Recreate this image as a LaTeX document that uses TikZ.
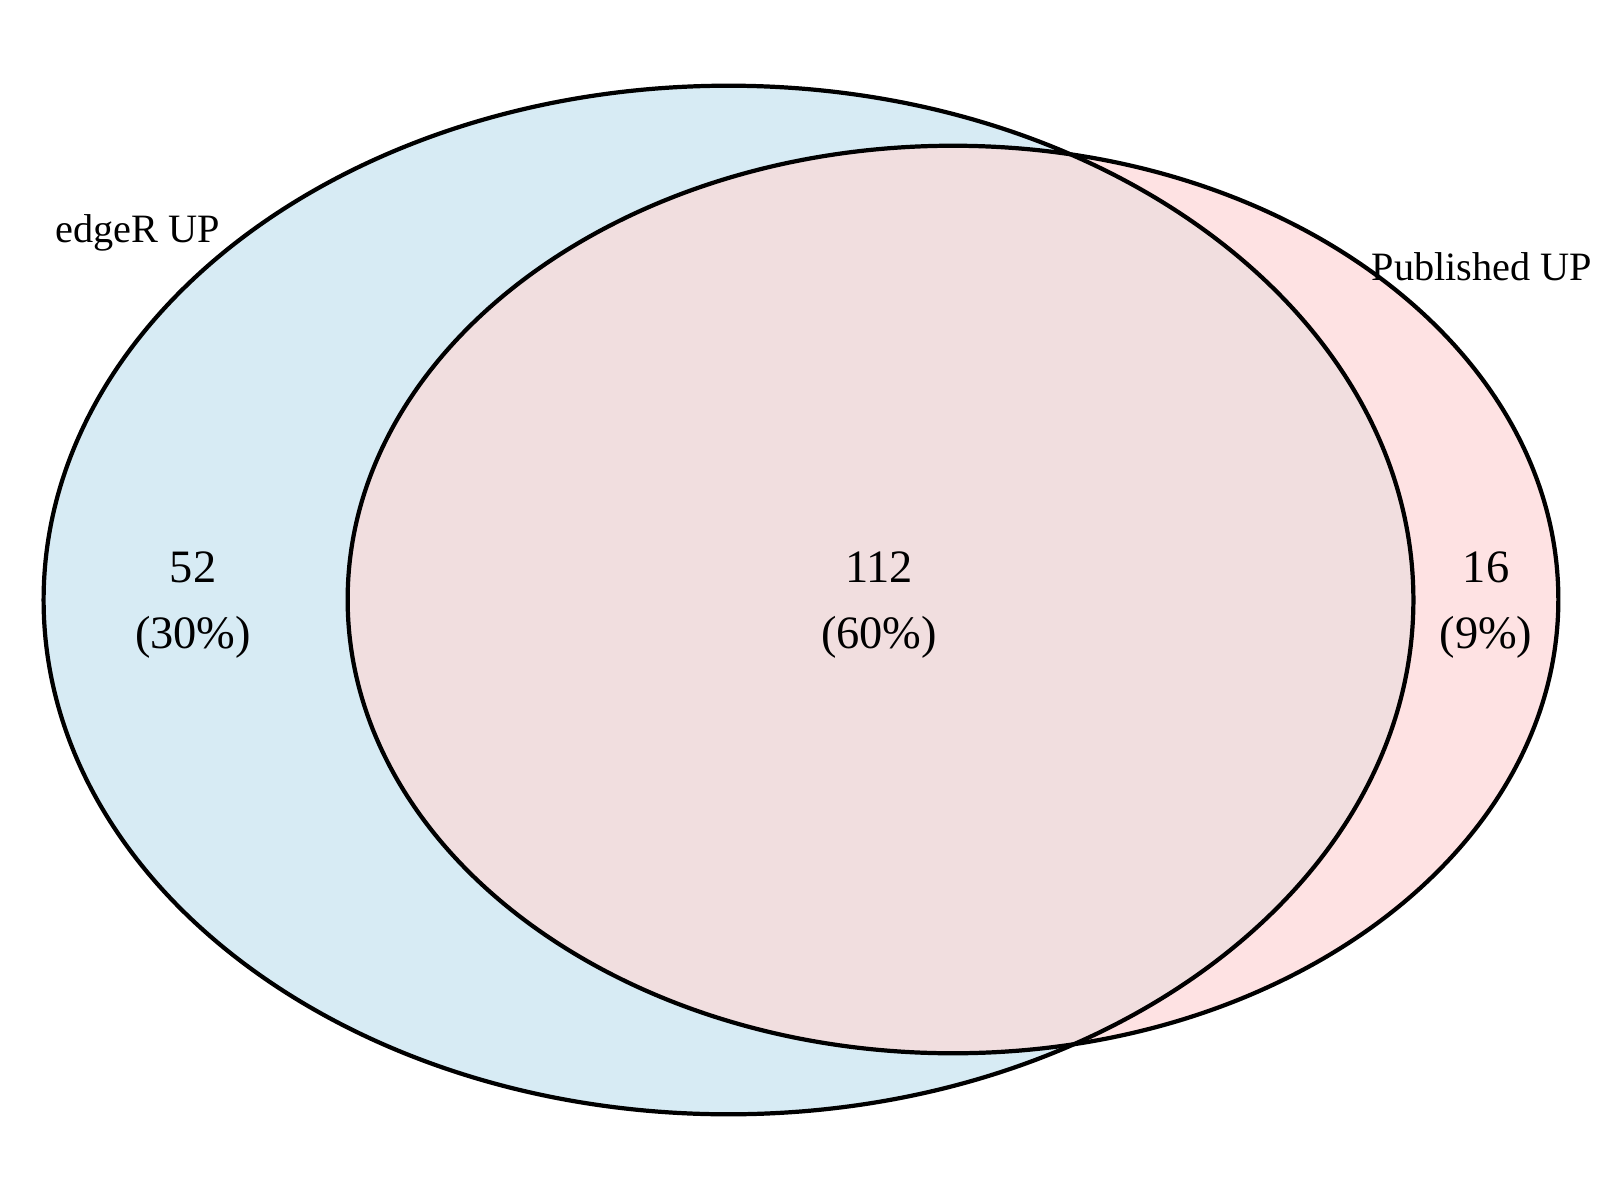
\documentclass[tikz,border=0pt]{standalone}
\usepackage{fontspec}
\setmainfont{Liberation Serif}
\definecolor{edgeRblue}{RGB}{215,235,244}
\definecolor{pubpink}{RGB}{254,226,227}
\definecolor{bothmix}{RGB}{241,222,223}
\tikzset{set line/.style={line width=1.2pt, black}, set label/.style={font=\fontsize{11.45}{13}\selectfont, inner sep=0pt}, count/.style={align=center, font=\fontsize{13.2}{19}\selectfont}}

\begin{document}
\begin{tikzpicture}[x=0.01cm, y=-0.01cm]
	\useasboundingbox (0,0) rectangle (1600,1200);
	\coordinate (edgeR) at (728.5,600);
	\coordinate (Published) at (953,599.5);
	% fills, then the overlap
	\fill[edgeRblue] (edgeR) ellipse [x radius=6.845cm, y radius=5.14cm];
	\fill[pubpink] (Published) ellipse [x radius=6.05cm, y radius=4.535cm];
	\begin{scope}
		\clip (edgeR) ellipse [x radius=6.845cm, y radius=5.14cm];
		\fill[bothmix] (Published) ellipse [x radius=6.05cm, y radius=4.535cm];
	\end{scope}
	\draw[set line] (edgeR) ellipse [x radius=6.845cm, y radius=5.14cm];
	\draw[set line] (Published) ellipse [x radius=6.05cm, y radius=4.535cm];
	% labels and counts
	\node[set label, anchor=base west] (edgeR label) at (55,242) {edgeR UP};
	\node[set label, anchor=base west] (Published label) at (1371,280) {Published UP};
	\node[count] (only edgeR) at (193,605) {52\\(30\%)};
	\node[count] (both) at (879,605) {112\\(60\%)};
	\node[count] (only Published) at (1486,605) {16\\(9\%)};
\end{tikzpicture}
\end{document}
